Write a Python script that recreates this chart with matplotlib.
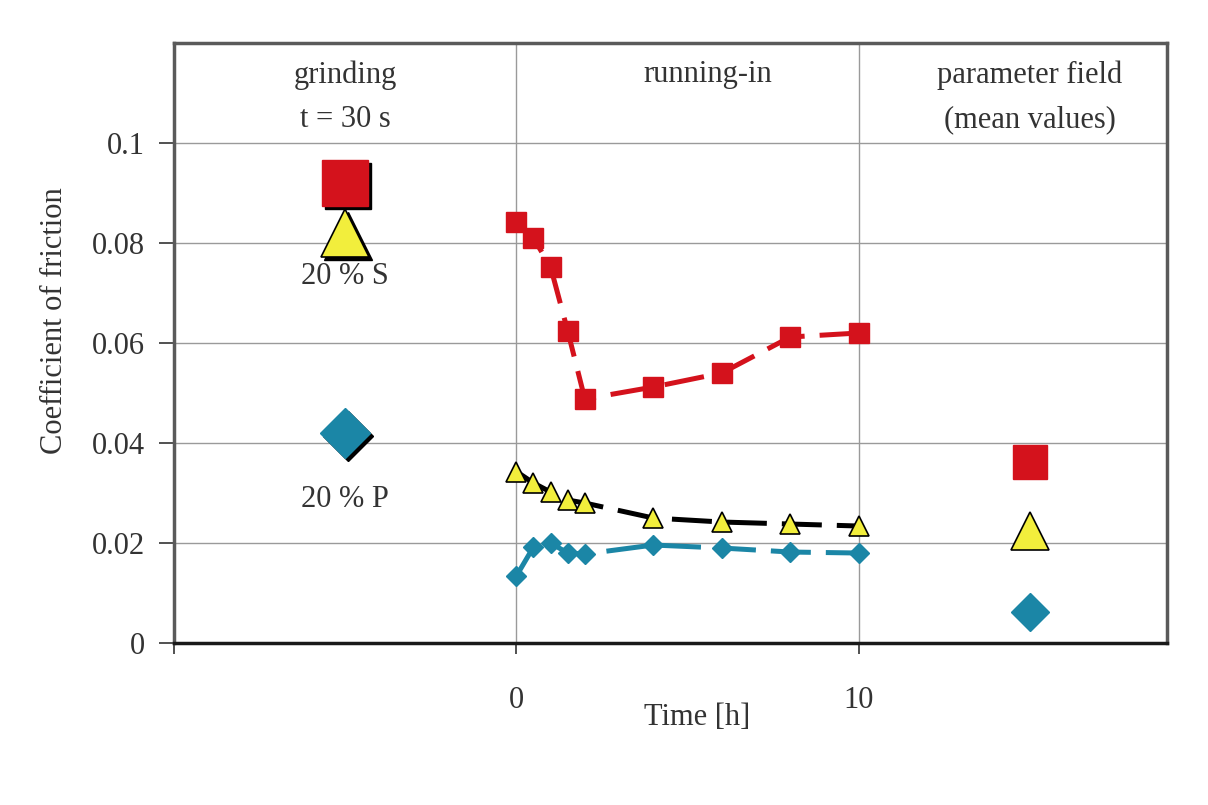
import matplotlib
matplotlib.use("Agg")
import matplotlib.pyplot as plt
from matplotlib.transforms import offset_copy

plt.rcParams['font.family'] = ['Liberation Serif', 'DejaVu Serif']

# running-in data
time_h = [0, 0.5, 1, 1.5, 2, 4, 6, 8, 10]
cof_S_sq = [0.0843, 0.0810, 0.0752, 0.0624, 0.0488, 0.0512, 0.0540, 0.0612, 0.0620]
cof_tri = [0.0343, 0.0320, 0.0302, 0.0286, 0.0280, 0.0250, 0.0242, 0.0238, 0.0234]
cof_P_dia = [0.0134, 0.0192, 0.0200, 0.0180, 0.0178, 0.0196, 0.0190, 0.0182, 0.0180]

# grinding (t = 30 s)
grind_x = -5
grind_sq = 0.092
grind_tri = 0.082
grind_dia = 0.042

# parameter field (mean values)
field_x = 15
field_sq = 0.0362
field_tri = 0.0224
field_dia = 0.0062

x_ticks = [-10, 0, 10]
x_ticklabels = ['', '0', '10']
y_ticks = [0, 0.02, 0.04, 0.06, 0.08, 0.1]
y_ticklabels = ['0', '0.02', '0.04', '0.06', '0.08', '0.1']

RED = '#d4121c'
YEL = '#f2ee3c'
BLUE = '#1b86a6'
TXT = '#333333'

fig = plt.figure(figsize=(12.08, 8.05), dpi=100)
ax = fig.add_axes([0.144, 0.2012, 0.822, 0.7454])
ax.set_xlim(-10, 19)
ax.set_ylim(0, 0.12)

fs = 22

ax.set_yticks(y_ticks)
ax.set_yticklabels(y_ticklabels)
ax.set_xticks(x_ticks)
ax.set_xticklabels(x_ticklabels)
ax.tick_params(axis='y', length=11, width=1.2, pad=10, labelsize=fs, colors='#333333', direction='out')
ax.tick_params(axis='x', length=8, width=1.2, pad=23, labelsize=fs, colors='#333333', direction='out')

# gridlines
for yv in [0.02, 0.04, 0.06, 0.08, 0.1]:
    ax.axhline(yv, color='#9a9a9a', lw=1.0, zorder=0)
for xv in [0, 10]:
    ax.axvline(xv, color='#9a9a9a', lw=1.0, zorder=0)

for side in ['top', 'right', 'left']:
    ax.spines[side].set_color('#5a5a5a')
    ax.spines[side].set_linewidth(2.5)
ax.spines['bottom'].set_color('#1a1a1a')
ax.spines['bottom'].set_linewidth(2.5)

dash = (0, (8, 3))
ax.plot(time_h, cof_S_sq, color=RED, lw=3.6, ls=dash, marker='s', ms=14,
        mfc=RED, mec=RED, zorder=3)
ax.plot(time_h, cof_tri, color='black', lw=3.6, ls=dash, marker='^', ms=14,
        mfc=YEL, mec='black', mew=1.2, zorder=3)
ax.plot(time_h, cof_P_dia, color=BLUE, lw=3.6, ls=dash, marker='D', ms=10,
        mfc=BLUE, mec=BLUE, zorder=3)

# grinding markers with shadows
shadow = offset_copy(ax.transData, fig=fig, x=3, y=-3, units='dots')
ax.plot([grind_x], [grind_tri], marker='^', ms=35, color='black', transform=shadow, zorder=4)
ax.plot([grind_x], [grind_tri], marker='^', ms=35, mfc=YEL, mec='black', mew=1.2, zorder=5)
ax.plot([grind_x], [grind_sq], marker='s', ms=33, color='black', transform=shadow, zorder=6)
ax.plot([grind_x], [grind_sq], marker='s', ms=33, mfc=RED, mec=RED, zorder=7)
ax.plot([grind_x], [grind_dia], marker='D', ms=25, color='black', transform=shadow, zorder=4)
ax.plot([grind_x], [grind_dia], marker='D', ms=25, mfc=BLUE, mec=BLUE, zorder=5)

# parameter field markers
ax.plot([field_x], [field_sq], marker='s', ms=25, mfc=RED, mec=RED, zorder=5)
ax.plot([field_x], [field_tri], marker='^', ms=27, mfc=YEL, mec='black', mew=1.2, zorder=5)
ax.plot([field_x], [field_dia], marker='D', ms=19, mfc=BLUE, mec=BLUE, zorder=5)

ax.text(-5, 0.1136, 'grinding', ha='center', va='center', fontsize=fs, color=TXT)
ax.text(-5, 0.1046, 't = 30 s', ha='center', va='center', fontsize=fs, color=TXT)
ax.text(5.6, 0.1136, 'running-in', ha='center', va='center', fontsize=fs, color=TXT)
ax.text(15, 0.1136, 'parameter field', ha='center', va='center', fontsize=fs, color=TXT)
ax.text(15, 0.1046, '(mean values)', ha='center', va='center', fontsize=fs, color=TXT)
ax.text(-5, 0.0734, '20 % S', ha='center', va='center', fontsize=fs, color=TXT)
ax.text(-5, 0.0288, '20 % P', ha='center', va='center', fontsize=fs, color=TXT)

ax.set_ylabel('Coefficient of friction', fontsize=fs, color=TXT)
ax.yaxis.set_label_coords(-0.106, 0.538)
ax.set_xlabel('Time [h]', fontsize=fs, color=TXT)
ax.xaxis.set_label_coords(0.527, -0.100)

fig.savefig('out.png', dpi=100, facecolor='white')
